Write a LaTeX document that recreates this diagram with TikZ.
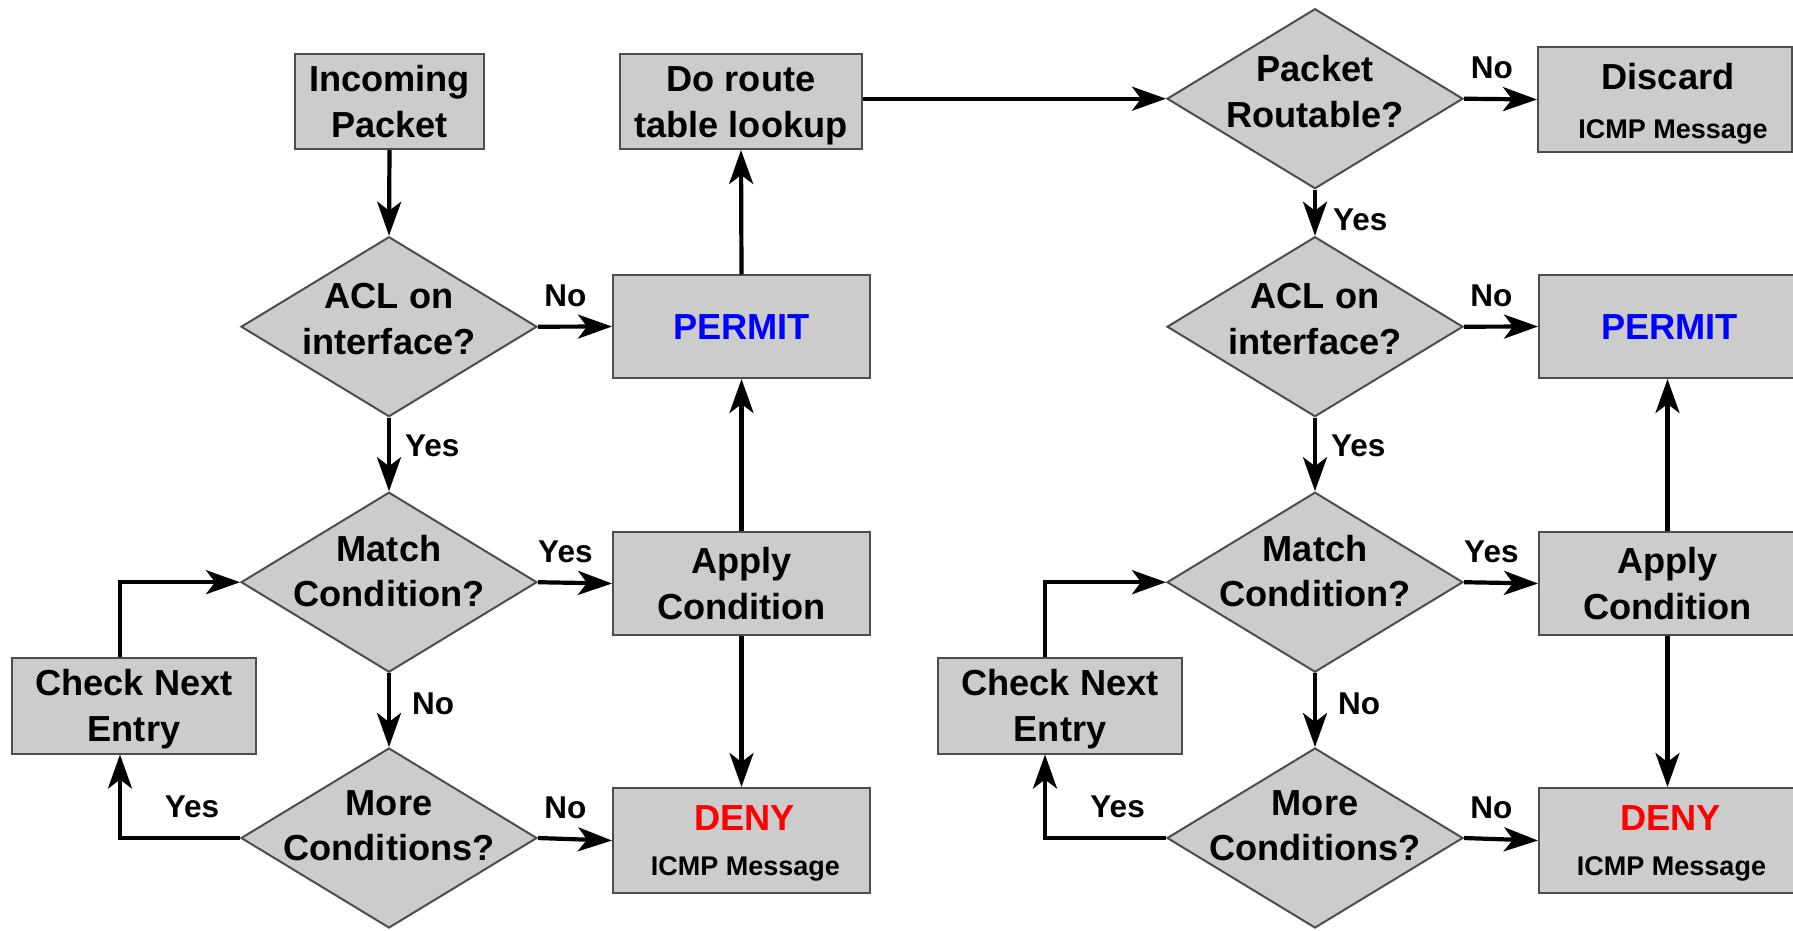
\documentclass[tikz,border=0pt]{standalone}
\usepackage{fontspec}
\setmainfont{Liberation Sans}
\usetikzlibrary{shapes.geometric,arrows.meta}
\definecolor{boxfill}{HTML}{CCCCCC}
\definecolor{boxline}{HTML}{4D4D4D}
\definecolor{permblue}{HTML}{0000FF}
\definecolor{denyred}{HTML}{FF0000}
\newcommand{\lnat}[3][0pt]{\makebox[0pt]{\hspace*{#1}\hspace*{#1}\raisebox{#2}[0pt][0pt]{#3}}}
\newcommand{\bigtxt}{\bfseries\fontsize{36.2}{43}\selectfont}
\newcommand{\smalltxt}{\bfseries\fontsize{27}{32}\selectfont}
\begin{document}
\begin{tikzpicture}[x=1pt,y=-1pt,
  box/.style={draw=boxline, line width=2pt, fill=boxfill, rectangle, inner sep=0pt, font=\bigtxt},
  dia/.style={draw=boxline, line width=2pt, fill=boxfill, diamond, inner sep=0pt,
              minimum width=296pt, minimum height=180pt, font=\bigtxt},
  wide/.style={minimum width=257pt, minimum height=103pt},
  conn/.style={line width=4.2pt, -{Stealth[length=34pt,width=24pt,inset=9pt]}},
  lbl/.style={font=\bfseries\fontsize{31.5}{36}\selectfont, inner sep=0pt},
]
\useasboundingbox (0,0) rectangle (1793,930);

% ---------- left flow ----------
\node[box, minimum width=189pt, minimum height=95pt] (inc) at (389.5,101.5)
  {\lnat{9.8pt}{Incoming}\lnat{-35.7pt}{Packet}};
\node[box, minimum width=242pt, minimum height=95pt] (dr) at (741,101.5)
  {\lnat{9.8pt}{Do route}\lnat{-35.7pt}{table lookup}};
\node[dia] (acl1) at (389,326.7) {\lnat{18.1pt}{ACL on}\lnat{-27.4pt}{interface?}};
\node[box, wide] (perm1) at (741.5,326.5) {\lnat{-13pt}{\color{permblue}PERMIT}};
\node[dia] (match1) at (389,582.2) {\lnat{20.8pt}{Match}\lnat{-24.7pt}{Condition?}};
\node[box, wide] (apply1) at (741.5,583.5) {\lnat{9.8pt}{Apply}\lnat{-35.7pt}{Condition}};
\node[box, minimum width=244pt, minimum height=96pt] (chk1) at (134,705.5)
  {\lnat{9.8pt}{Check Next}\lnat{-35.7pt}{Entry}};
\node[dia] (more1) at (389,838) {\lnat{22.8pt}{More}\lnat{-22.7pt}{Conditions?}};
\node[box, wide, minimum height=105pt] (deny1) at (741.5,840.5)
  {\lnat[3pt]{10.3pt}{\color{denyred}DENY}\lnat[4pt]{-34.7pt}{\smalltxt ICMP Message}};

% ---------- right flow ----------
\node[dia] (pr) at (1315,98.7) {\lnat{16.8pt}{Packet}\lnat{-28.7pt}{Routable?}};
\node[box, minimum width=254pt, minimum height=105pt] (disc) at (1665,99.5)
  {\lnat[3pt]{9.9pt}{Discard}\lnat[8pt]{-39.2pt}{\smalltxt ICMP Message}};
\node[dia] (acl2) at (1315,326.7) {\lnat{18.1pt}{ACL on}\lnat{-27.4pt}{interface?}};
\node[box, wide] (perm2) at (1667.5,326.5) {\lnat[2pt]{-13pt}{\color{permblue}PERMIT}};
\node[dia] (match2) at (1315,582.2) {\lnat{20.8pt}{Match}\lnat{-24.7pt}{Condition?}};
\node[box, wide] (apply2) at (1667.5,583.5) {\lnat{9.8pt}{Apply}\lnat{-35.7pt}{Condition}};
\node[box, minimum width=244pt, minimum height=96pt] (chk2) at (1060,705.5)
  {\lnat{9.8pt}{Check Next}\lnat{-35.7pt}{Entry}};
\node[dia] (more2) at (1315,838) {\lnat{22.8pt}{More}\lnat{-22.7pt}{Conditions?}};
\node[box, wide, minimum height=105pt] (deny2) at (1667.5,840.5)
  {\lnat[3pt]{10.3pt}{\color{denyred}DENY}\lnat[4pt]{-34.7pt}{\smalltxt ICMP Message}};

% ---------- helper coordinates ----------
\coordinate (c1b) at ([xshift=-14pt]chk1.south);
\coordinate (c1t) at ([xshift=-14pt]chk1.north);
\coordinate (c2b) at ([xshift=-15pt]chk2.south);
\coordinate (c2t) at ([xshift=-15pt]chk2.north);

% ---------- left connectors ----------
\draw[conn] (inc.south) -- (acl1.north);
\draw[conn] (acl1.east) -- node[lbl, pos=.37, above=18pt]{No} (perm1.west);
\draw[conn] (acl1.south) -- node[lbl, pos=.38, right=14pt]{Yes} (match1.north);
\draw[conn] (match1.east) -- node[lbl, pos=.37, above=18pt]{Yes} (apply1.west);
\draw[conn] (match1.south) -- node[lbl, pos=.42, right=21pt]{No} (more1.north);
\draw[conn] (more1.east) -- node[lbl, pos=.37, above=18pt]{No} (deny1.west);
\draw[conn] (more1.west) -| node[lbl, pos=.2, above=18pt]{Yes} (c1b);
\draw[conn] (c1t) |- (match1.west);
\draw[conn] (apply1.north) -- (perm1.south);
\draw[conn] (apply1.south) -- (deny1.north);
\draw[conn] (perm1.north) -- (dr.south);
\draw[conn] (dr.east |- pr.west) -- (pr.west);

% ---------- right connectors ----------
\draw[conn] (pr.east) -- node[lbl, pos=.38, above=18pt]{No} (disc.west);
\draw[conn] (pr.south) -- node[lbl, pos=.65, right=16pt]{Yes} (acl2.north);
\draw[conn] (acl2.east) -- node[lbl, pos=.37, above=18pt]{No} (perm2.west);
\draw[conn] (acl2.south) -- node[lbl, pos=.38, right=14pt]{Yes} (match2.north);
\draw[conn] (match2.east) -- node[lbl, pos=.37, above=18pt]{Yes} (apply2.west);
\draw[conn] (match2.south) -- node[lbl, pos=.42, right=21pt]{No} (more2.north);
\draw[conn] (more2.east) -- node[lbl, pos=.37, above=18pt]{No} (deny2.west);
\draw[conn] (more2.west) -| node[lbl, pos=.2, above=18pt]{Yes} (c2b);
\draw[conn] (c2t) |- (match2.west);
\draw[conn] (apply2.north) -- (perm2.south);
\draw[conn] (apply2.south) -- (deny2.north);
\end{tikzpicture}
\end{document}
